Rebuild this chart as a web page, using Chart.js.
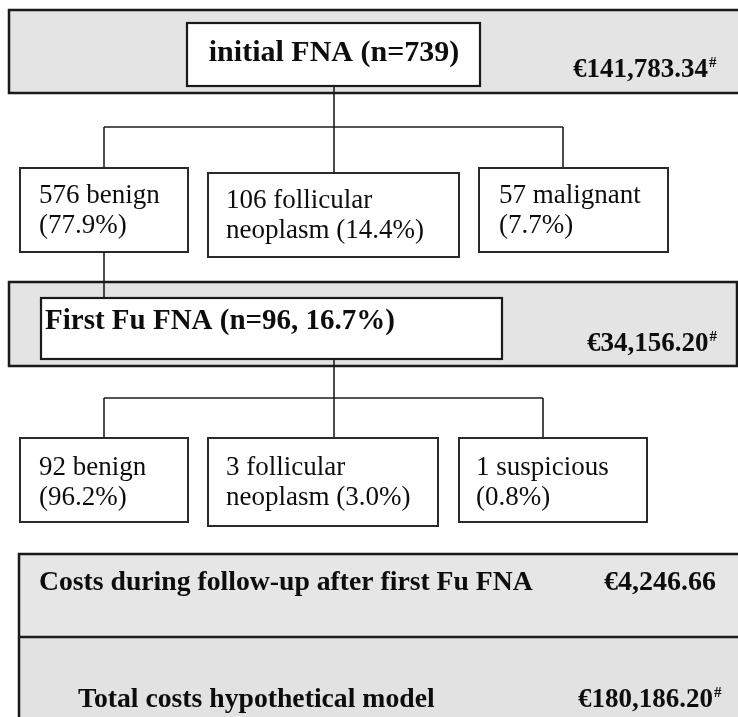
<!DOCTYPE html>
<html>
<head>
<meta charset="utf-8">
<script src="https://cdn.jsdelivr.net/npm/chart.js@4"></script>
<style>
  html, body { margin: 0; padding: 0; background: #ffffff; }
  #wrap { width: 738px; height: 717px; }
</style>
</head>
<body>
<div id="wrap"><canvas id="c" width="738" height="717"></canvas></div>
<script>
// ---------------- data ----------------
const initialN = 739;
const firstCounts = [576, 106, 57];
const firstPcts = [77.9, 14.4, 7.7];
const firstHeads = ['benign', 'follicular', 'malignant'];
const firstTails = ['', 'neoplasm', ''];

const fuN = 96;
const fuPct = 16.7;
const secondCounts = [92, 3, 1];
const secondPcts = [96.2, 3.0, 0.8];
const secondHeads = ['benign', 'follicular', 'suspicious'];
const secondTails = ['', 'neoplasm', ''];

const stageCosts = [141783.34, 34156.20];
const followupCost = 4246.66;
const totalCost = 180186.20;
const costLabels = ['Costs during follow-up after first Fu FNA', 'Total costs hypothetical model'];

// ---------------- layout (canvas units) ----------------
const layout = {
  band1: [9, 10, 745, 93],
  initBox: [187, 23, 480, 86],
  initText: [334, 61],
  cost1: [573, 77],
  bus1: { top: 86, y: 127, xs: [104, 334, 563], from: 334 },
  row1: [[20, 168, 188, 252], [208, 173, 459, 257], [479, 168, 668, 252]],
  row1Text: [[39, 203], [226, 208], [499, 203]],
  link: [104, 252, 298],
  band2: [9, 282, 737, 366],
  fuBox: [41, 298, 502, 359],
  fuText: [45, 329],
  cost2: [587, 351],
  bus2: { top: 359, y: 398, xs: [104, 334, 543], from: 334 },
  row2: [[20, 438, 188, 522], [208, 438, 438, 526], [459, 438, 647, 522]],
  row2Text: [[39, 475], [226, 475], [476, 475]],
  table: [19, 554, 745, 730],
  tableDivider: 637,
  tRow1: [39, 590], tRow1Cost: [604, 590],
  tRow2: [78, 707], tRow2Cost: [578, 707],
  lineGap: 30
};

function euro(v) {
  const parts = v.toFixed(2).split('.');
  parts[0] = parts[0].replace(/\B(?=(\d{3})+(?!\d))/g, ',');
  return '\u20AC' + parts.join('.');
}
function boxLines(count, head, tail, pct) {
  return [count + ' ' + head, (tail ? tail + ' ' : '') + '(' + pct.toFixed(1) + '%)'];
}

const SERIF = '"Liberation Serif", "Times New Roman", serif';

const flowPlugin = {
  id: 'flow',
  afterDraw(chart) {
    const ctx = chart.ctx;
    const xs = chart.scales.x, ys = chart.scales.y;
    const X = v => xs.getPixelForValue(v);
    const Y = v => ys.getPixelForValue(v);

    function rect(r, fill, stroke, lw) {
      const x0 = X(r[0]), y0 = Y(r[1]), x1 = X(r[2]), y1 = Y(r[3]);
      ctx.save();
      if (fill) { ctx.fillStyle = fill; ctx.fillRect(x0, y0, x1 - x0, y1 - y0); }
      if (stroke) { ctx.strokeStyle = stroke; ctx.lineWidth = lw; ctx.strokeRect(x0, y0, x1 - x0, y1 - y0); }
      ctx.restore();
    }
    function line(pts, lw) {
      ctx.save();
      ctx.strokeStyle = '#1e1e1e';
      ctx.lineWidth = lw || 1.6;
      ctx.beginPath();
      pts.forEach((p, i) => { const px = X(p[0]), py = Y(p[1]); if (i) ctx.lineTo(px, py); else ctx.moveTo(px, py); });
      ctx.stroke();
      ctx.restore();
    }
    function text(str, x, y, bold, align, size) {
      ctx.save();
      ctx.font = (bold ? 'bold ' : '') + (size || 27) + 'px ' + SERIF;
      ctx.fillStyle = '#0d0d0d';
      ctx.textAlign = align || 'left';
      ctx.textBaseline = 'alphabetic';
      ctx.fillText(str, X(x), Y(y));
      ctx.restore();
    }
    function cost(v, pos, hash, size) {
      const s = euro(v);
      ctx.save();
      ctx.font = 'bold ' + (size || 27) + 'px ' + SERIF;
      ctx.fillStyle = '#0d0d0d';
      ctx.textBaseline = 'alphabetic';
      ctx.fillText(s, X(pos[0]), Y(pos[1]));
      if (hash) {
        const w = ctx.measureText(s).width;
        ctx.font = 'bold 15px ' + SERIF;
        ctx.fillText('#', X(pos[0]) + w + 1, Y(pos[1]) - 10);
      }
      ctx.restore();
    }
    function bus(b, boxes) {
      line([[b.from, b.top], [b.from, b.y]]);
      line([[b.xs[0], b.y], [b.xs[b.xs.length - 1], b.y]]);
      b.xs.forEach((x, i) => line([[x, b.y], [x, boxes[i][1]]]));
    }

    const bandFill = '#e4e4e4';
    const edge = '#1a1a1a';

    // top band
    rect(layout.band1, bandFill, edge, 2.5);
    rect(layout.initBox, '#ffffff', edge, 2.2);
    text('initial FNA (n=' + initialN + ')', layout.initText[0], layout.initText[1], true, 'center', 30);
    cost(stageCosts[0], layout.cost1, true);

    // first level
    bus(layout.bus1, layout.row1);
    layout.row1.forEach((r, i) => {
      rect(r, '#ffffff', '#2a2a2a', 2);
      const ls = boxLines(firstCounts[i], firstHeads[i], firstTails[i], firstPcts[i]);
      const t = layout.row1Text[i];
      ls.forEach((s, k) => text(s, t[0], t[1] + k * layout.lineGap, false));
    });

    // link to follow-up
    line([[layout.link[0], layout.link[1]], [layout.link[0], layout.link[2]]]);

    // second band
    rect(layout.band2, bandFill, edge, 2.5);
    line([[layout.link[0], layout.band2[1]], [layout.link[0], layout.link[2]]]);
    rect(layout.fuBox, '#ffffff', edge, 2.2);
    text('First Fu FNA (n=' + fuN + ', ' + fuPct.toFixed(1) + '%)', layout.fuText[0], layout.fuText[1], true, 'left', 29);
    cost(stageCosts[1], layout.cost2, true);

    // second level
    bus(layout.bus2, layout.row2);
    layout.row2.forEach((r, i) => {
      rect(r, '#ffffff', '#2a2a2a', 2);
      const ls = boxLines(secondCounts[i], secondHeads[i], secondTails[i], secondPcts[i]);
      const t = layout.row2Text[i];
      ls.forEach((s, k) => text(s, t[0], t[1] + k * layout.lineGap, false));
    });

    // cost table
    const tb = layout.table;
    rect([tb[0], tb[1], tb[2], layout.tableDivider], '#e6e6e6', null, 0);
    rect([tb[0], layout.tableDivider, tb[2], tb[3]], '#e2e2e2', null, 0);
    rect(tb, null, edge, 2.5);
    line([[tb[0], layout.tableDivider], [tb[2], layout.tableDivider]], 2.5);
    text(costLabels[0], layout.tRow1[0], layout.tRow1[1], true, 'left', 27.7);
    cost(followupCost, layout.tRow1Cost, false, 28);
    text(costLabels[1], layout.tRow2[0], layout.tRow2[1], true, 'left', 27.7);
    cost(totalCost, layout.tRow2Cost, true);
  }
};

new Chart(document.getElementById('c'), {
  type: 'scatter',
  data: { datasets: [{ data: [], pointRadius: 0 }] },
  options: {
    responsive: false,
    animation: false,
    layout: { padding: 0 },
    plugins: { legend: { display: false }, tooltip: { enabled: false } },
    scales: {
      x: { type: 'linear', min: 0, max: 738, display: false },
      y: { type: 'linear', min: 0, max: 717, reverse: true, display: false }
    }
  },
  plugins: [flowPlugin]
});
</script>
</body>
</html>
